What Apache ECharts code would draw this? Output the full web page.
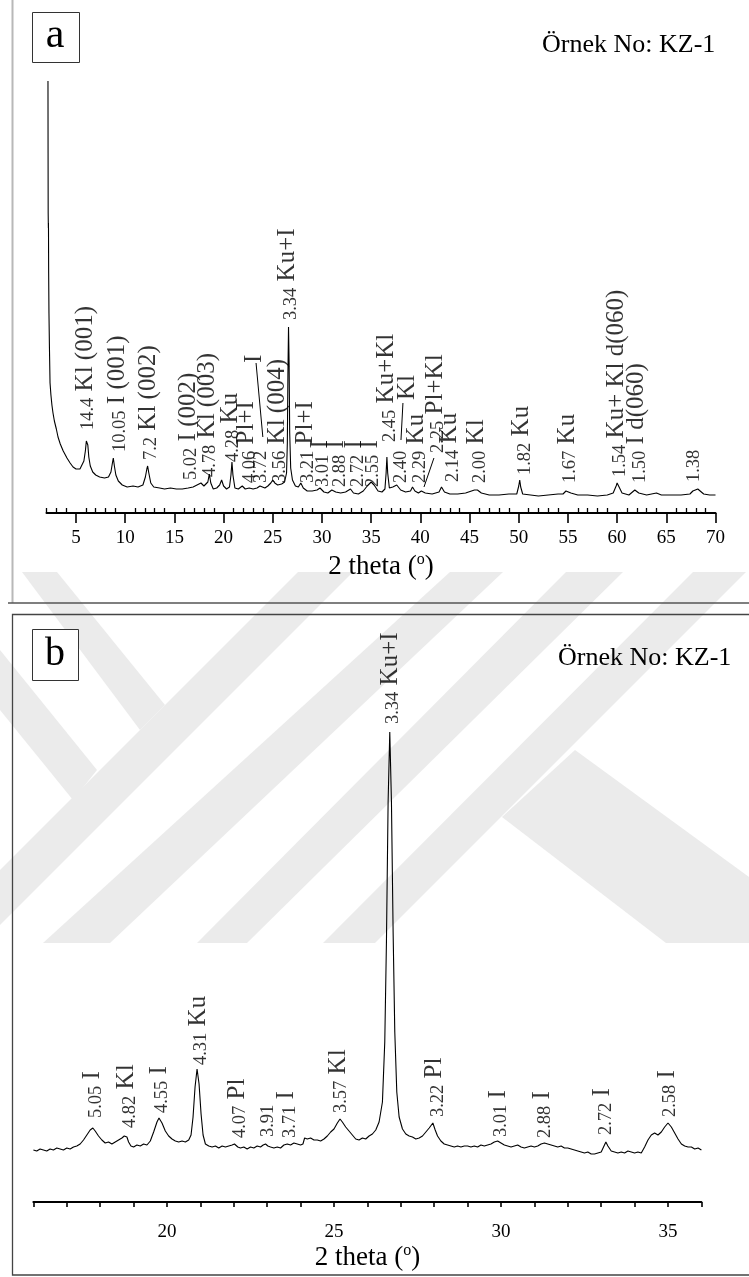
<!DOCTYPE html>
<html>
<head>
<meta charset="utf-8">
<script src="https://cdn.jsdelivr.net/npm/echarts@6/dist/echarts.min.js"></script>
<style>
  html, body { margin: 0; padding: 0; background: #fff; }
  #chart { width: 749px; height: 1277px; }
</style>
</head>
<body>
<div id="chart"></div>
<script>
const SERIF = '"Liberation Serif", "Times New Roman", serif';

// ---- Panel a: full scan 2-70 deg 2theta (intensity in arbitrary counts) ----
const scanA = [
  [2.15,432],[2.16,360],[2.17,300],[2.19,285],[2.2,290],[2.22,240],[2.25,200],[2.3,165],[2.36,130],
  [2.45,118],[2.55,108],[2.66,100],[2.8,92],[3.0,84],[3.17,76],[3.4,69],[3.7,62],[4.08,55],[4.4,50],
  [4.7,46],[5.0,44],[5.2,43],[5.4,44],[5.6,46],[5.8,52],[5.95,62],[6.05,72],[6.13,74],[6.2,68],
  [6.3,56],[6.45,47],[6.7,41],[7.0,38],[7.4,36],[7.9,35],[8.3,36],[8.55,41],[8.7,50],[8.79,55],
  [8.9,47],[9.05,38],[9.3,32],[9.7,28],[10.2,26],[10.8,27],[11.3,26],[11.8,28],[12.05,36],[12.2,44],
  [12.28,47],[12.4,40],[12.6,30],[12.9,26],[13.5,25],[14.0,24],[14.6,25],[15.2,24],[15.8,24],[16.4,25],
  [16.9,26],[17.3,28],[17.7,30],[18.0,27],[18.2,26],[18.4,31],[18.55,39],[18.7,30],[18.95,24],[19.3,25],
  [19.6,28],[19.8,33],[20.0,27],[20.3,24],[20.6,26],[20.75,38],[20.85,51],[20.95,38],[21.15,25],[21.5,24],
  [21.9,27],[22.2,24],[22.6,25],[23.0,24],[23.4,25],[23.7,27],[23.9,28],[24.2,25],[24.5,27],[24.8,30],
  [25.0,33],[25.2,30],[25.5,28],[25.9,29],[26.2,31],[26.4,40],[26.48,70],[26.54,140],[26.6,186],[26.66,150],
  [26.72,80],[26.82,45],[27.0,33],[27.3,27],[27.6,26],[27.85,30],[28.1,25],[28.5,22],[29.0,22],[29.5,23],
  [29.8,25],[30.2,21],[30.6,20],[31.0,23],[31.4,21],[31.9,20],[32.4,21],[32.9,24],[33.2,20],[33.7,19],
  [34.2,22],[34.6,27],[35.0,31],[35.3,28],[35.7,22],[36.1,21],[36.4,24],[36.52,40],[36.6,56],[36.68,40],
  [36.85,25],[37.2,26],[37.6,28],[38.0,23],[38.5,21],[39.0,22],[39.2,26],[39.3,28],[39.45,22],[39.8,20],
  [40.1,22],[40.5,20],[41.2,19],[41.9,21],[42.15,26],[42.25,27],[42.45,21],[43.0,19],[43.8,19],[44.6,20],
  [45.2,22],[45.5,23],[45.8,23],[46.2,20],[47.0,18],[48.0,18],[49.0,19],[49.8,19],[50.0,27],[50.1,33],
  [50.2,26],[50.4,19],[51.2,18],[52.0,17],[53.0,18],[54.0,19],[54.5,19],[54.8,22],[55.0,21],[55.3,20],
  [56.0,18],[57.0,18],[58.0,17],[59.0,18],[59.6,20],[59.9,27],[60.0,30],[60.15,27],[60.5,20],[61.2,18],
  [61.8,23],[62.2,20],[63.0,18],[64.0,20],[64.5,18],[65.5,18],[66.5,18],[67.4,19],[67.7,22],[67.9,21],
  [68.2,24],[68.4,22],[68.8,19],[69.4,18],[70.0,18]
];

// peak labels: [2theta, intensity at label foot, d-spacing, phase]
const peaksA = [
  [5.91, 83, '14.4', 'Kl (001)'],
  [9.17, 61, '10.05', 'I (001)'],
  [12.32, 53, '7.2', 'Kl (002)'],
  [16.38, 33, '5.02', 'I (002)'],
  [18.31, 36, '4.78', 'Kl (003)'],
  [20.65, 51, '4.28', 'Ku'],
  [22.37, 30, '4.06', 'Pl+I'],
  [23.70, 30, '3.72', ''],
  [23.09, 150, '', 'I'],
  [25.43, 30, '3.56', 'Kl (004)'],
  [26.54, 193, '3.34', 'Ku+I'],
  [28.27, 30, '3.21', 'Pl+I'],
  [29.80, 26, '3.01', 'I'],
  [31.52, 26, '2.88', 'I'],
  [33.35, 26, '2.72', 'I'],
  [34.88, 26, '2.55', 'I'],
  [36.60, 71, '2.45', 'Ku+Kl'],
  [37.93, 30, '2.40', ''],
  [38.64, 113, '', 'Kl'],
  [39.65, 30, '2.29', 'Ku'],
  [41.55, 60, '2.25', 'Pl+Kl'],
  [43.00, 31, '2.14', 'Ku'],
  [45.75, 30, '2.00', 'Kl'],
  [50.32, 38, '1.82', 'Ku'],
  [54.90, 30, '1.67', 'Ku'],
  [59.98, 36, '1.54', 'Ku+ Kl d(060)'],
  [62.00, 30, '1.50', 'I d(060)'],
  [67.70, 31, '1.38', '']
];

// leader lines joining displaced labels to their peaks
const leadersA = [
  [[23.30, 150], [23.99, 76]],
  [[38.23, 110], [38.03, 73]],
  [[41.38, 55], [40.37, 26]]
];

const majorTicksA = [5, 10, 15, 20, 25, 30, 35, 40, 45, 50, 55, 60, 65, 70];
const minorTicksA = [2,3,4,6,7,8,9,11,12,13,14,16,17,18,19,21,22,23,24,26,27,28,29,31,32,33,34,
  36,37,38,39,41,42,43,44,46,47,48,49,51,52,53,54,56,57,58,59,61,62,63,64,66,67,68,69];

// ---- Panel b: 16-36 deg 2theta detail scan ----
const scanB = [
  [16.0,52],[16.1,51],[16.2,53],[16.3,52],[16.4,51],[16.5,53],[16.6,52],[16.7,54],[16.8,53],[16.9,52],
  [17.0,54],[17.1,53],[17.2,55],[17.3,56],[17.4,58],[17.5,62],[17.6,67],[17.7,72],[17.78,74],[17.85,71],
  [17.95,66],[18.05,62],[18.15,59],[18.25,60],[18.35,58],[18.45,60],[18.55,62],[18.65,64],[18.72,66],[18.8,65],
  [18.85,60],[18.92,56],[19.0,55],[19.1,57],[19.2,56],[19.3,58],[19.4,57],[19.5,61],[19.6,70],[19.7,80],
  [19.76,84],[19.85,79],[19.95,71],[20.05,66],[20.15,63],[20.25,61],[20.35,60],[20.45,61],[20.55,60],[20.65,62],
  [20.72,67],[20.78,85],[20.84,115],[20.9,133],[20.96,118],[21.02,88],[21.08,67],[21.15,58],[21.25,56],[21.35,55],
  [21.45,56],[21.55,54],[21.65,56],[21.75,55],[21.85,56],[21.95,57],[22.02,58],[22.07,60],[22.12,55],[22.2,54],
  [22.3,55],[22.4,53],[22.5,55],[22.6,54],[22.7,56],[22.8,55],[22.88,57],[22.95,58],[23.02,56],[23.1,55],
  [23.2,54],[23.3,55],[23.4,54],[23.5,57],[23.6,58],[23.7,57],[23.8,59],[23.9,58],[24.0,57],[24.07,58],
  [24.12,64],[24.2,63],[24.3,64],[24.4,62],[24.5,62],[24.6,61],[24.7,63],[24.8,66],[24.9,70],[25.0,73],
  [25.1,79],[25.18,83],[25.25,80],[25.35,75],[25.45,71],[25.55,67],[25.65,63],[25.75,62],[25.85,64],[25.95,63],
  [26.05,66],[26.15,68],[26.25,72],[26.35,80],[26.45,100],[26.52,160],[26.57,260],[26.62,400],[26.67,470],[26.72,400],
  [26.77,270],[26.82,170],[26.88,110],[26.95,85],[27.05,73],[27.15,68],[27.25,66],[27.35,65],[27.45,63],[27.55,64],
  [27.65,66],[27.75,70],[27.85,74],[27.96,79],[28.03,72],[28.1,66],[28.2,61],[28.3,58],[28.4,57],[28.5,56],
  [28.6,55],[28.7,56],[28.8,55],[28.9,56],[29.0,56],[29.1,55],[29.2,56],[29.3,55],[29.4,57],[29.5,56],
  [29.6,57],[29.7,58],[29.8,60],[29.9,61],[30.0,59],[30.1,57],[30.2,56],[30.3,55],[30.4,56],[30.5,57],
  [30.6,55],[30.7,54],[30.8,55],[30.9,56],[31.0,55],[31.1,56],[31.2,58],[31.3,59],[31.4,58],[31.5,57],
  [31.6,56],[31.7,55],[31.8,56],[31.9,54],[32.0,54],[32.1,53],[32.2,52],[32.3,51],[32.4,50],[32.5,49],
  [32.6,50],[32.7,48],[32.8,48],[32.9,49],[33.0,50],[33.07,55],[33.14,60],[33.2,56],[33.3,51],[33.4,50],
  [33.5,49],[33.6,50],[33.7,49],[33.8,51],[33.9,50],[34.0,49],[34.1,50],[34.2,49],[34.3,55],[34.4,62],
  [34.5,67],[34.6,69],[34.7,67],[34.8,70],[34.9,75],[35.0,79],[35.1,75],[35.2,69],[35.3,63],[35.4,58],
  [35.5,56],[35.6,55],[35.65,57],[35.7,55],[35.8,53],[35.9,54],[36.0,52]
];

const peaksB = [
  [17.78, 84, '5.05', 'I'],
  [18.80, 74, '4.82', 'Kl'],
  [19.76, 89, '4.55', 'I'],
  [20.93, 137, '4.31', 'Ku'],
  [22.10, 64, '4.07', 'Pl'],
  [23.00, 65, '3.91', ''],
  [23.59, 64, '3.71', 'I'],
  [25.12, 89, '3.57', 'Kl'],
  [26.68, 478, '3.34', 'Ku+I'],
  [28.02, 85, '3.22', 'Pl'],
  [29.91, 65, '3.01', 'I'],
  [31.23, 64, '2.88', 'I'],
  [33.05, 67, '2.72', 'I'],
  [34.97, 85, '2.58', 'I']
];

const ticksB = [16,17,18,19,20,21,22,23,24,25,26,27,28,29,30,31,32,33,34,35,36];
const labelTicksB = [20, 25, 30, 35];

const sampleName = 'Örnek No: KZ-1';
const axisTitle = '2 theta ({s|o})';

// ---------------------------------------------------------------
const richPeak = {
  n: { fontSize: 18.5, fontFamily: SERIF, color: '#000', lineHeight: 21, verticalAlign: 'bottom' },
  m: { fontSize: 25, fontFamily: SERIF, color: '#000', lineHeight: 25, verticalAlign: 'bottom' }
};

function peakLabelData(list) {
  return list.map(p => {
    let txt = '';
    if (p[2]) txt += '{n|' + p[2] + '}';
    if (p[3]) txt += '{m|' + (p[2] ? ' ' : '') + p[3] + '}';
    return { value: [p[0], p[1]], label: { formatter: txt } };
  });
}

function peakSeries(list, idx) {
  return {
    type: 'scatter',
    xAxisIndex: idx, yAxisIndex: idx,
    symbolSize: 1,
    itemStyle: { color: 'rgba(0,0,0,0)' },
    silent: true,
    data: peakLabelData(list),
    label: {
      show: true, position: 'inside', rotate: 90,
      align: 'left', verticalAlign: 'middle',
      rich: richPeak
    },
    labelLayout: { hideOverlap: false },
    z: 5
  };
}

const titleRich = {
  s: { fontSize: 16, fontFamily: SERIF, color: '#000', verticalAlign: 'top', lineHeight: 30 }
};

function axisBase(min, max) {
  return {
    type: 'value', min: min, max: max,
    splitLine: { show: false },
    axisLine: { show: true, onZero: false, lineStyle: { color: '#000', width: 2 } }
  };
}

// faint diagonal background bands
const WM = '#ebebeb';
const watermark = [
  [[22,572],[57,572],[165,705],[140,730]],
  [[0,650],[97,770],[73,800],[0,710]],
  [[298,572],[353,572],[0,925],[0,870]],
  [[450,572],[503,572],[110,943],[43,943]],
  [[566,572],[623,572],[247,943],[197,943]],
  [[693,572],[746,572],[375,943],[323,943]],
  [[502,817],[575,750],[749,877],[749,943],[666,943]]
].map(pts => ({
  type: 'polygon', shape: { points: pts }, style: { fill: WM }, silent: true, z: -10
}));

const option = {
  backgroundColor: '#fff',
  animation: false,
  grid: [
    { left: 46.5, top: 13, width: 669, height: 500, outerBoundsMode: 'none', containLabel: false },
    { left: 33.4, top: 702, width: 668, height: 500, outerBoundsMode: 'none', containLabel: false }
  ],
  xAxis: [
    Object.assign(axisBase(2, 70), {
      gridIndex: 0,
      axisTick: { show: true, customValues: majorTicksA, length: 10, lineStyle: { color: '#000', width: 1.6 } },
      axisLabel: { customValues: majorTicksA, fontSize: 19, fontFamily: SERIF, color: '#000', margin: 16 },
      name: axisTitle, nameLocation: 'middle', nameGap: 39,
      nameTextStyle: { fontSize: 27, fontFamily: SERIF, color: '#000', lineHeight: 30, rich: titleRich }
    }),
    Object.assign(axisBase(2, 70), {
      gridIndex: 0,
      axisLine: { show: false },
      axisTick: { show: true, customValues: minorTicksA, length: 5, lineStyle: { color: '#000', width: 1.3 } },
      axisLabel: { show: false }
    }),
    Object.assign(axisBase(16, 36), {
      gridIndex: 1,
      axisTick: { show: true, customValues: ticksB, length: 5, lineStyle: { color: '#000', width: 1.6 } },
      axisLabel: { customValues: labelTicksB, fontSize: 19, fontFamily: SERIF, color: '#000', margin: 21 },
      name: axisTitle, nameLocation: 'middle', nameGap: 39,
      nameTextStyle: { fontSize: 27, fontFamily: SERIF, color: '#000', lineHeight: 30, rich: titleRich }
    })
  ],
  yAxis: [
    { gridIndex: 0, type: 'value', min: 0, max: 500, show: false },
    { gridIndex: 0, type: 'value', min: 0, max: 500, show: false },
    { gridIndex: 1, type: 'value', min: 0, max: 500, show: false }
  ],
  series: [
    {
      type: 'line', xAxisIndex: 0, yAxisIndex: 0, data: scanA,
      showSymbol: false, symbol: 'none', smooth: false, silent: true,
      lineStyle: { color: '#000', width: 1.1 }, z: 3
    },
    {
      type: 'lines', coordinateSystem: 'cartesian2d', xAxisIndex: 0, yAxisIndex: 0,
      silent: true,
      data: leadersA.map(c => ({ coords: c })),
      lineStyle: { color: '#000', width: 1, opacity: 1, curveness: 0 },
      z: 4
    },
    peakSeries(peaksA, 0),
    {
      type: 'line', xAxisIndex: 2, yAxisIndex: 2, data: scanB,
      showSymbol: false, symbol: 'none', smooth: false, silent: true,
      lineStyle: { color: '#000', width: 1.1 }, z: 3
    },
    peakSeries(peaksB, 2)
  ],
  graphic: watermark.concat([
    // panel frames
    { type: 'line', shape: { x1: 12.5, y1: 0, x2: 12.5, y2: 603 }, style: { stroke: '#b8b8b8', lineWidth: 2 }, silent: true },
    { type: 'line', shape: { x1: 8, y1: 603, x2: 749, y2: 603 }, style: { stroke: '#555', lineWidth: 1.5 }, silent: true },
    { type: 'rect', shape: { x: 12.5, y: 614.5, width: 800, height: 660.5 }, style: { fill: 'none', stroke: '#444', lineWidth: 1.3 }, silent: true },
    // panel tags
    { type: 'rect', shape: { x: 32.5, y: 12.5, width: 47, height: 50 }, style: { fill: '#fff', stroke: '#333', lineWidth: 1 }, silent: true },
    { type: 'text', x: 55, y: 36, style: { text: 'a', font: '42px ' + SERIF, fill: '#000', align: 'center', verticalAlign: 'middle' }, silent: true },
    { type: 'rect', shape: { x: 32.5, y: 629.5, width: 46, height: 51 }, style: { fill: '#fff', stroke: '#333', lineWidth: 1 }, silent: true },
    { type: 'text', x: 55, y: 654, style: { text: 'b', font: '40px ' + SERIF, fill: '#000', align: 'center', verticalAlign: 'middle' }, silent: true },
    // sample names
    { type: 'text', x: 542, y: 45, style: { text: sampleName, font: '26px ' + SERIF, fill: '#000', align: 'left', verticalAlign: 'middle' }, silent: true },
    { type: 'text', x: 558, y: 658, style: { text: sampleName, font: '26px ' + SERIF, fill: '#000', align: 'left', verticalAlign: 'middle' }, silent: true }
  ])
};

const chart = echarts.init(document.getElementById('chart'), null, { renderer: 'canvas' });
chart.setOption(option);
</script>
</body>
</html>
